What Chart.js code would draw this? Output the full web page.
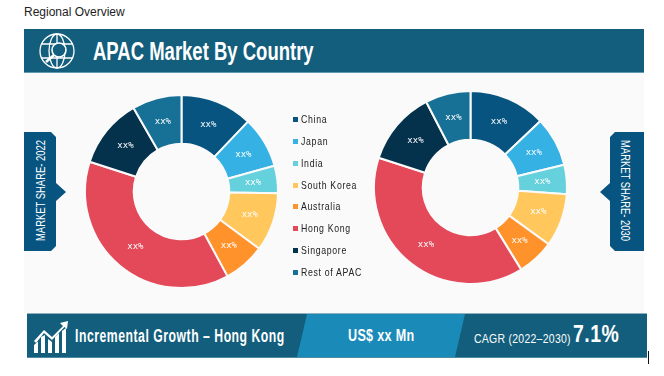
<!DOCTYPE html>
<html>
<head>
<meta charset="utf-8">
<title>APAC Market By Country</title>
<script src="https://cdn.jsdelivr.net/npm/chart.js@4/dist/chart.umd.min.js"></script>
<style>
    html, body { margin: 0; padding: 0; background: #fff; overflow: hidden; }
    #page { position: relative; width: 664px; height: 376px; font-family: "Liberation Sans", sans-serif; }
    #page > * { position: absolute; }
    #regional { left: 24px; top: 5px; font-size: 12px; color: #222; }
    #panel { left: 24px; top: 73px; width: 620px; height: 240px; background: #fafafa; }
    #header { left: 24px; top: 29px; width: 620px; height: 44px; background: #125e7c; border-bottom: 1px solid #5f9cb4; box-sizing: border-box; }
    #title { left: 93px; top: 37px; font-size: 25px; font-weight: bold; color: #fff; line-height: 28px; white-space: nowrap; transform: scaleX(0.74); transform-origin: left; }
    #chart2022 { left: 81px; top: 91px; }
    #chart2030 { left: 370px; top: 87px; }
    #legend { left: 293px; top: 109px; margin: 0; padding: 0; list-style: none; }
    #legend li { position: relative; height: 21.85px; line-height: 21.85px; padding-left: 8px; font-size: 11.5px; letter-spacing: 0.9px; color: #222; white-space: nowrap; }
    #legend i { position: absolute; left: 0; top: 8px; width: 5px; height: 5px; }
    #legend span { display: inline-block; transform: scaleX(0.76); transform-origin: left; }
    .barText { color: #fff; white-space: nowrap; transform-origin: left; }
    #cursor { left: 648px; top: 351px; width: 1px; height: 13px; background: #111; }
</style>
</head>
<body>
<div id="page">
    <div id="regional">Regional Overview</div>
    <div id="panel"></div>
    <div id="header"></div>

    <!-- globe icon -->
    <svg style="left:38px;top:33px" width="38" height="36" viewBox="0 0 38 36" fill="none" stroke="#fff" stroke-width="1.3">
        <circle cx="19" cy="18" r="17"/>
        <ellipse cx="19" cy="18" rx="8" ry="17"/>
        <path d="M19 1V35M3 11H35M3 25H35"/>
        <circle cx="21" cy="17" r="7" fill="#125e7c" stroke-width="1.6"/>
        <path d="M16 22L8 29" stroke-width="2.6"/>
    </svg>
    <div id="title">APAC Market By Country</div>

    <!-- market share tags -->
    <svg style="left:24px;top:131px" width="44" height="122">
        <path d="M0 1H27L32 6V52L42 61L32 70V115L27 120H0Z" fill="#06547f"/>
        <text transform="translate(21,110) rotate(-90)" fill="#fff" font-size="12" font-family="Liberation Sans" textLength="101" lengthAdjust="spacingAndGlyphs">MARKET SHARE- 2022</text>
    </svg>
    <svg style="left:598px;top:131px" width="46" height="122">
        <path d="M46 1H17L12 6V52L2 61L12 70V115L17 120H46Z" fill="#06547f"/>
        <text transform="translate(23,9) rotate(90)" fill="#fff" font-size="12" font-family="Liberation Sans" textLength="101" lengthAdjust="spacingAndGlyphs">MARKET SHARE- 2030</text>
    </svg>

    <canvas id="chart2022" width="201" height="201"></canvas>
    <canvas id="chart2030" width="201" height="201"></canvas>
    <ul id="legend"></ul>

    <!-- bottom bar -->
    <svg style="left:27px;top:313px" width="620" height="45">
        <rect width="620" height="45" fill="#125e7c"/>
        <path d="M280 1H438L428 44H270Z" fill="#1a8ab8"/>
        <path d="M0 0.5H620" stroke="#8fb0bf"/>
        <path d="M0 44.5H620" stroke="#4d8aa3"/>
    </svg>
    <svg style="left:33px;top:320px" width="36" height="33" viewBox="0 0 36 33" fill="#fff">
        <path d="M1 21L11 10L19 17L30 6L27 3L35 1L34 9L31.500 7L19 20L11 13L3 23Z"/>
        <path d="M1 33V25L5 21.500V33ZM8 33V17L12 15V33ZM15 33V19L19 22V33ZM22 33V17L26 13V33ZM29 33V11L33 8V33Z"/>
    </svg>
    <div class="barText" style="left:75px;top:326px;font-size:17.5px;font-weight:bold;letter-spacing:.75px;transform:scaleX(.698)">Incremental Growth – Hong Kong</div>
    <div class="barText" style="left:348px;top:327px;font-size:16px;font-weight:bold;letter-spacing:.4px;transform:scaleX(.786)">US$ xx Mn</div>
    <div class="barText" style="left:474px;top:331px;font-size:13.5px;letter-spacing:.35px;transform:scaleX(.775)">CAGR (2022–2030)</div>
    <div class="barText" style="left:573px;top:320px;font-size:24px;font-weight:bold;letter-spacing:.6px;transform:scaleX(.81)">7.1%</div>
    <div id="cursor"></div>
</div>

<script>
// Data (share of each country, in percent)
const categories = ['China', 'Japan', 'India', 'South Korea', 'Australia', 'Hong Kong', 'Singapore', 'Rest of APAC'];
const share2022 = [12.1, 8.6, 4.6, 9.8, 7.0, 37.9, 11.7, 8.3];
const share2030 = [12.9, 8.3, 4.9, 8.9, 6.2, 38.8, 12.4, 7.6];
const sliceLabels = ['xx%', 'xx%', 'xx%', 'xx%', 'xx%', 'xx%', 'xx%', 'xx%'];
const sliceColors = ['#06547f', '#35b1e4', '#65d1dc', '#ffc75c', '#ff922b', '#e4495a', '#04324d', '#177196'];

// Small plugin to write the xx% labels in the middle of each slice
const sliceLabelPlugin = {
    id: 'sliceLabels',
    afterDatasetsDraw(chart) {
        const ctx = chart.ctx;
        ctx.save();
        ctx.fillStyle = '#fff';
        ctx.font = '9px "DejaVu Sans Mono", monospace';
        ctx.textAlign = 'center';
        ctx.textBaseline = 'middle';
        chart.getDatasetMeta(0).data.forEach((arc, index) => {
            const center = arc.getCenterPoint();
            ctx.fillText(sliceLabels[index], center.x, center.y);
        });
        ctx.restore();
    },
};

// Function to create one of the two doughnuts
function createShareChart(canvasId, values) {
    return new Chart(document.getElementById(canvasId), {
        type: 'doughnut',
        data: {
            labels: categories,
            datasets: [{
                data: values,
                backgroundColor: sliceColors,
                borderColor: '#fafafa',
                borderWidth: 2,
            }],
        },
        options: {
            responsive: false,
            animation: false,
            cutout: '49.5%',
            layout: { padding: 3 },
            plugins: {
                legend: { display: false },
                tooltip: { enabled: false },
            },
        },
        plugins: [sliceLabelPlugin],
    });
}

// Legend is plain html so it can sit between the two charts
function buildLegend() {
    const legend = document.getElementById('legend');
    categories.forEach((name, index) => {
        const item = document.createElement('li');
        const swatch = document.createElement('i');
        swatch.style.background = sliceColors[index];
        const text = document.createElement('span');
        text.textContent = name;
        item.appendChild(swatch);
        item.appendChild(text);
        legend.appendChild(item);
    });
}

createShareChart('chart2022', share2022);
createShareChart('chart2030', share2030);
buildLegend();
</script>
</body>
</html>
